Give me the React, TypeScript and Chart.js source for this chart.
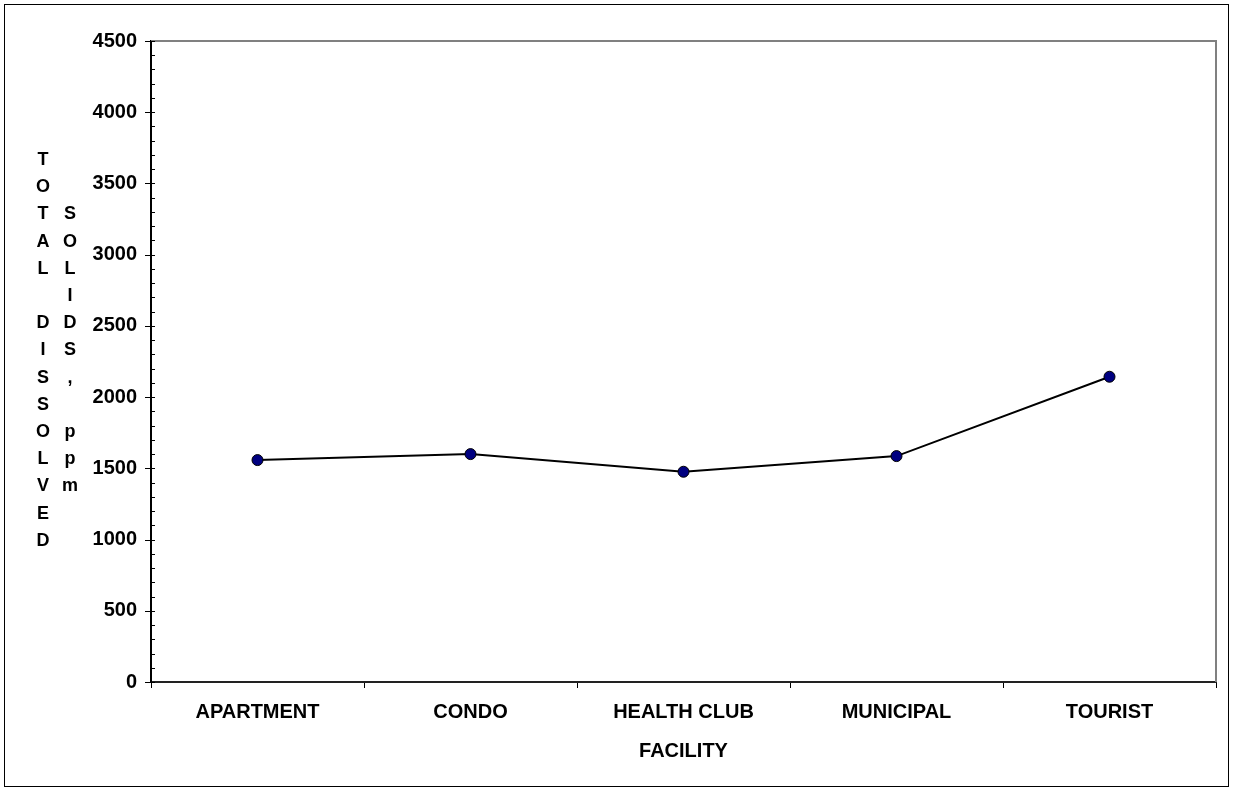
import React, { useEffect, useRef } from "react";
import { Chart, registerables } from "chart.js";

Chart.register(...registerables);

const categories = ["APARTMENT", "CONDO", "HEALTH CLUB", "MUNICIPAL", "TOURIST"];
const tdsValues = [1558, 1600, 1476, 1586, 2143];
const yMin = 0;
const yMax = 4500;
const yMajorStep = 500;
const yMinorStep = 100;
const xTitle = "FACILITY";
const yTitleLine1 = "TOTAL DISSOLVED";
const yTitleLine2 = "SOLIDS, ppm";

const FONT_FAMILY = "'Liberation Sans', Arial, Helvetica, sans-serif";

const framePlugin = {
  id: "frame",
  beforeDraw(chart: any) {
    const { ctx, width, height } = chart;
    ctx.save();
    ctx.fillStyle = "#ffffff";
    ctx.fillRect(0, 0, width, height);
    ctx.strokeStyle = "#000000";
    ctx.lineWidth = 1;
    ctx.strokeRect(4.5, 4.5, width - 9, height - 9);
    ctx.restore();
  },
  beforeDatasetsDraw(chart: any) {
    const { ctx, chartArea } = chart;
    const { left, right, top, bottom } = chartArea;
    ctx.save();
    ctx.strokeStyle = "#808080";
    ctx.lineWidth = 2;
    ctx.beginPath();
    ctx.moveTo(left, top);
    ctx.lineTo(right, top);
    ctx.lineTo(right, bottom);
    ctx.stroke();
    const y = chart.scales.y;
    ctx.strokeStyle = "#000000";
    ctx.lineWidth = 1;
    for (let v = yMin; v <= yMax; v += yMinorStep) {
      const py = Math.round(y.getPixelForValue(v)) + 0.5;
      const major = v % yMajorStep === 0;
      ctx.beginPath();
      ctx.moveTo(left - (major ? 6 : 0), py);
      ctx.lineTo(left + 4, py);
      ctx.stroke();
    }
    ctx.restore();
  },
  afterDraw(chart: any) {
    const { ctx } = chart;
    ctx.save();
    ctx.fillStyle = "#000000";
    ctx.font = `bold 18px ${FONT_FAMILY}`;
    ctx.textAlign = "center";
    ctx.textBaseline = "middle";
    const rowStart = 160;
    const rowStep = 27.2;
    const col1X = 43;
    const col2X = 70;
    Array.from(yTitleLine1).forEach((ch, i) => {
      if (ch.trim()) ctx.fillText(ch, col1X, rowStart + i * rowStep);
    });
    Array.from(yTitleLine2).forEach((ch, i) => {
      if (ch.trim()) ctx.fillText(ch, col2X, rowStart + (i + 2) * rowStep);
    });
    ctx.restore();
  },
};

export default function App() {
  const canvasRef = useRef<HTMLCanvasElement | null>(null);

  useEffect(() => {
    document.body.style.margin = "0";
    const canvas = canvasRef.current;
    if (!canvas) return;
    const chart = new Chart(canvas, {
      type: "line",
      data: {
        labels: categories,
        datasets: [
          {
            label: "TDS",
            data: tdsValues,
            borderColor: "#000000",
            borderWidth: 2,
            backgroundColor: "#000080",
            pointBackgroundColor: "#000080",
            pointBorderColor: "#000000",
            pointBorderWidth: 1,
            pointRadius: 5.5,
            tension: 0,
            fill: false,
          },
        ],
      },
      options: {
        responsive: false,
        animation: false,
        devicePixelRatio: 1,
        layout: { padding: { top: 41, right: 17, bottom: 0, left: 0 } },
        plugins: {
          legend: { display: false },
          tooltip: { enabled: false },
        },
        scales: {
          x: {
            type: "category",
            offset: true,
            grid: {
              display: true,
              drawOnChartArea: false,
              drawTicks: true,
              tickLength: 6,
              color: "#000000",
              lineWidth: 1,
              offset: true,
            },
            border: { display: true, color: "#222222", width: 2 },
            ticks: {
              color: "#000000",
              font: { family: FONT_FAMILY, size: 20, weight: "bold" },
              padding: 12,
              maxRotation: 0,
              autoSkip: false,
            },
            title: {
              display: true,
              text: xTitle,
              color: "#000000",
              font: { family: FONT_FAMILY, size: 20, weight: "bold" },
              padding: { top: 0, bottom: 28 },
            },
            afterFit: (scale: any) => {
              scale.height = 109;
            },
          },
          y: {
            type: "linear",
            min: yMin,
            max: yMax,
            grid: { display: false, drawTicks: false, tickLength: 0 },
            border: { display: true, color: "#000000", width: 2 },
            ticks: {
              stepSize: yMajorStep,
              color: "#000000",
              font: { family: FONT_FAMILY, size: 20, weight: "bold" },
              padding: 14,
              callback: (value: any) => String(value),
            },
            afterFit: (scale: any) => {
              scale.width = 151;
            },
          },
        },
      },
      plugins: [framePlugin],
    });
    return () => chart.destroy();
  }, []);

  return (
    <canvas
      ref={canvasRef}
      width={1233}
      height={791}
      style={{ display: "block" }}
    />
  );
}
